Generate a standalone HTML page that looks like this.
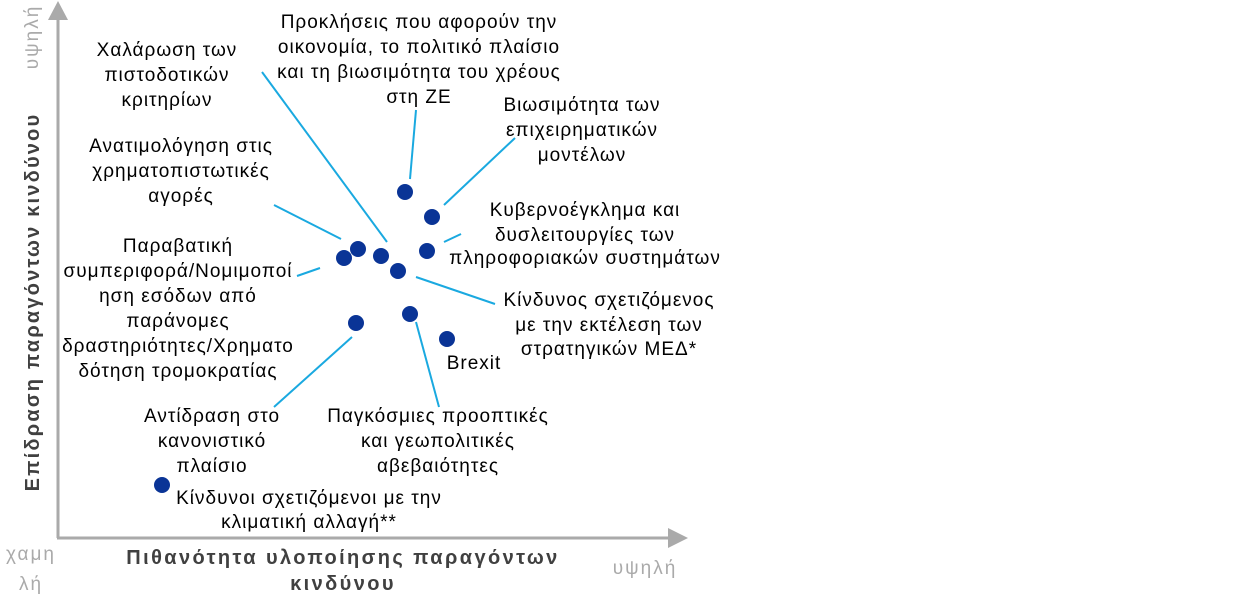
<!DOCTYPE html>
<html><head><meta charset="utf-8"><style>
html,body{margin:0;padding:0;background:#fff;}
svg{display:block;}
text{font-family:"Liberation Sans",Arial,sans-serif;}
.t{font-size:19px;fill:#000;text-anchor:middle;letter-spacing:1px;}
.l{stroke:#1aa9e0;stroke-width:2;}
.d{fill:#0a3496;}
.g{font-size:19px;fill:#aaa;text-anchor:middle;letter-spacing:2px;}
.b{font-size:20px;font-weight:bold;fill:#404040;text-anchor:middle;}
</style></head><body>
<svg width="1240" height="614" viewBox="0 0 1240 614" xmlns="http://www.w3.org/2000/svg">
<line x1="58" y1="18" x2="58" y2="538" stroke="#aaa" stroke-width="3"/>
<polygon points="58,1 48,20 68,20" fill="#aaa"/>
<line x1="57" y1="538" x2="670" y2="538" stroke="#aaa" stroke-width="3"/>
<polygon points="688,538 668,528 668,548" fill="#aaa"/>

<text class="g" transform="translate(38,37) rotate(-90)">υψηλή</text>
<text class="b" transform="translate(39,302) rotate(-90)" letter-spacing="2.2">Επίδραση παραγόντων κινδύνου</text>
<text class="b" x="343" y="564" letter-spacing="2.4">Πιθανότητα υλοποίησης παραγόντων</text>
<text class="b" x="343" y="590" letter-spacing="2.4">κινδύνου</text>
<text class="g" x="31" y="560">χαμη</text>
<text class="g" x="31" y="590">λή</text>
<text class="g" x="645" y="574">υψηλή</text>

<line class="l" x1="262" y1="72" x2="387" y2="242"/>
<line class="l" x1="416" y1="110" x2="410" y2="179"/>
<line class="l" x1="515" y1="138" x2="444" y2="205"/>
<line class="l" x1="461" y1="234" x2="444" y2="242"/>
<line class="l" x1="274" y1="205" x2="341" y2="239"/>
<line class="l" x1="297" y1="276" x2="320" y2="268"/>
<line class="l" x1="416" y1="277" x2="495" y2="304"/>
<line class="l" x1="274" y1="407" x2="352" y2="337"/>
<line class="l" x1="416" y1="322" x2="439" y2="407"/>

<circle class="d" cx="405" cy="192" r="8"/>
<circle class="d" cx="432" cy="217" r="8"/>
<circle class="d" cx="427" cy="251" r="8"/>
<circle class="d" cx="358" cy="249" r="8"/>
<circle class="d" cx="344" cy="258" r="8"/>
<circle class="d" cx="381" cy="256" r="8"/>
<circle class="d" cx="398" cy="271" r="8"/>
<circle class="d" cx="410" cy="314" r="8"/>
<circle class="d" cx="356" cy="323" r="8"/>
<circle class="d" cx="447" cy="339" r="8"/>
<circle class="d" cx="162" cy="485" r="8"/>

<text class="t" x="167" y="56">Χαλάρωση των</text>
<text class="t" x="167" y="81">πιστοδοτικών</text>
<text class="t" x="167" y="106">κριτηρίων</text>

<text class="t" x="419" y="28">Προκλήσεις που αφορούν την</text>
<text class="t" x="419" y="53">οικονομία, το πολιτικό πλαίσιο</text>
<text class="t" x="419" y="78">και τη βιωσιμότητα του χρέους</text>
<text class="t" x="419" y="103">στη ΖΕ</text>

<text class="t" x="582" y="111">Βιωσιμότητα των</text>
<text class="t" x="582" y="136">επιχειρηματικών</text>
<text class="t" x="582" y="161">μοντέλων</text>

<text class="t" x="181" y="152">Ανατιμολόγηση στις</text>
<text class="t" x="181" y="177">χρηματοπιστωτικές</text>
<text class="t" x="181" y="202">αγορές</text>

<text class="t" x="585" y="216">Κυβερνοέγκλημα και</text>
<text class="t" x="585" y="241">δυσλειτουργίες των</text>
<text class="t" x="585" y="264">πληροφοριακών συστημάτων</text>

<text class="t" x="178" y="252">Παραβατική</text>
<text class="t" x="178" y="277">συμπεριφορά/Νομιμοποί</text>
<text class="t" x="178" y="302">ηση εσόδων από</text>
<text class="t" x="178" y="327">παράνομες</text>
<text class="t" x="178" y="352">δραστηριότητες/Χρηματο</text>
<text class="t" x="178" y="377">δότηση τρομοκρατίας</text>

<text class="t" x="609" y="306">Κίνδυνος σχετιζόμενος</text>
<text class="t" x="609" y="331">με την εκτέλεση των</text>
<text class="t" x="609" y="355">στρατηγικών ΜΕΔ*</text>

<text class="t" x="474" y="369">Brexit</text>

<text class="t" x="212" y="422">Αντίδραση στο</text>
<text class="t" x="212" y="447">κανονιστικό</text>
<text class="t" x="212" y="472">πλαίσιο</text>

<text class="t" x="438" y="422">Παγκόσμιες προοπτικές</text>
<text class="t" x="438" y="447">και γεωπολιτικές</text>
<text class="t" x="438" y="472">αβεβαιότητες</text>

<text class="t" x="309" y="504">Κίνδυνοι σχετιζόμενοι με την</text>
<text class="t" x="309" y="528">κλιματική αλλαγή**</text>
</svg>
</body></html>
